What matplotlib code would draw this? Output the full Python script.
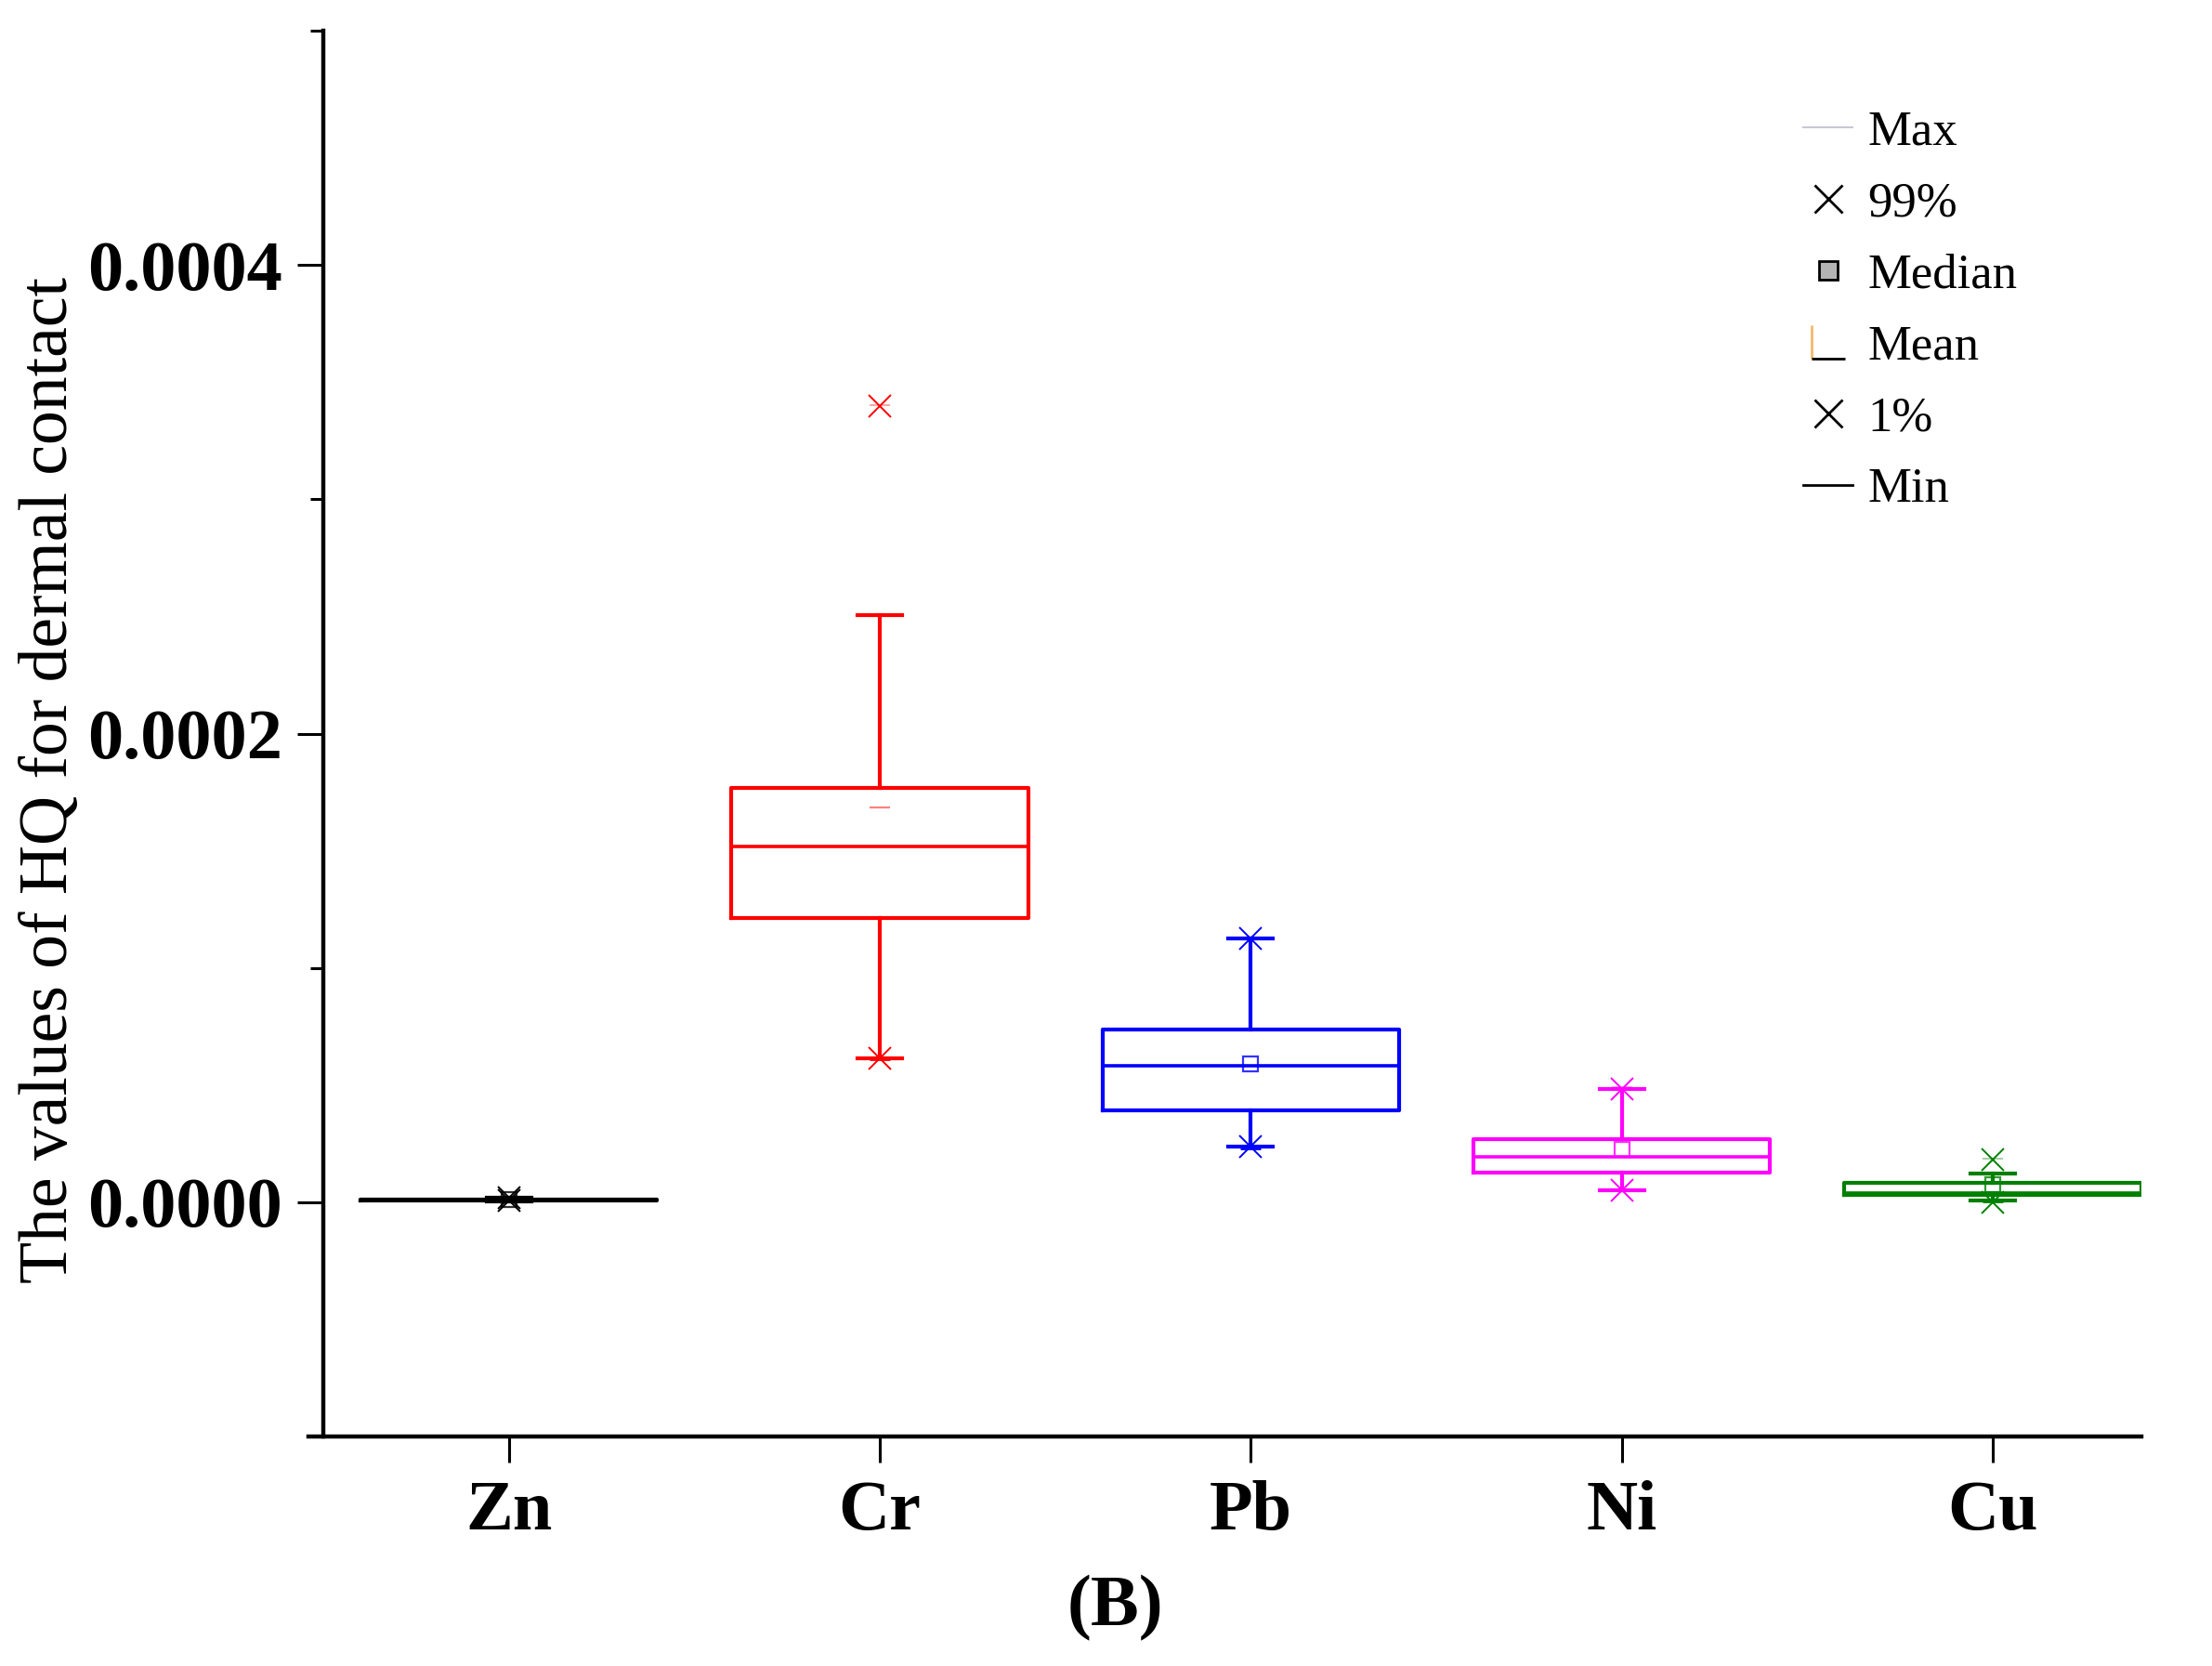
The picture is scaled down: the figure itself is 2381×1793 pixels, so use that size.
import matplotlib
matplotlib.use('Agg')
import matplotlib.pyplot as plt
from matplotlib.lines import Line2D
from matplotlib.legend_handler import HandlerTuple
from matplotlib.path import Path
from matplotlib.ticker import MultipleLocator, FormatStrFormatter

# Valores (HQ por contacto dérmico)
metals = ['Zn', 'Cr', 'Pb', 'Ni', 'Cu']
colors = ['black', 'red', 'blue', 'magenta', 'green']
q1 = [0.8e-6, 1.213e-4, 3.94e-5, 1.26e-5, 3.0e-6]
med = [1.0e-6, 1.520e-4, 5.83e-5, 1.92e-5, 4.0e-6]
q3 = [1.3e-6, 1.768e-4, 7.36e-5, 2.70e-5, 8.4e-6]
whislo = [0.5e-6, 6.15e-5, 2.37e-5, 5.3e-6, 0.9e-6]
whishi = [2.0e-6, 2.504e-4, 1.126e-4, 4.83e-5, 1.21e-5]
mean = [1.1e-6, 1.683e-4, 5.90e-5, 2.26e-5, 7.5e-6]
p1 = [0.6e-6, 6.15e-5, 2.37e-5, 5.3e-6, 0.1e-6]
p99 = [1.8e-6, 3.397e-4, 1.126e-4, 4.83e-5, 1.81e-5]
vmin = [0.5e-6, 6.1e-5, 2.3e-5, 5.0e-6, 0.3e-6]
vmax = [2.0e-6, 3.40e-4, 1.13e-4, 4.9e-5, 1.85e-5]
mean_marker = ['s', '_', 's', 's', 's']

plt.rcParams['font.family'] = ['Liberation Serif', 'DejaVu Serif']

fig = plt.figure(figsize=(23.81, 17.93), dpi=100)
ax = fig.add_axes([0.1462, 0.1377, 0.8218, 0.8439])

for i, m in enumerate(metals):
    pos = i + 1
    c = colors[i]
    st = [{'med': med[i], 'q1': q1[i], 'q3': q3[i], 'whislo': whislo[i],
           'whishi': whishi[i], 'mean': mean[i], 'fliers': [], 'label': m}]
    ax.bxp(st, positions=[pos], widths=0.8, capwidths=0.12, showmeans=True,
           boxprops=dict(color=c, linewidth=3.0),
           medianprops=dict(color=c, linewidth=2.6),
           whiskerprops=dict(color=c, linewidth=3.0),
           capprops=dict(color=c, linewidth=3.0),
           meanprops=dict(marker=mean_marker[i], markerfacecolor='none',
                          markeredgecolor=c, markersize=12 if mean_marker[i] == 's' else 16,
                          markeredgewidth=1.6, alpha=0.8 if mean_marker[i] == 's' else 0.5))
    # percentis 1% e 99%
    ax.plot([pos, pos], [p1[i], p99[i]], ls='none', marker='x', color=c,
            markersize=17, markeredgewidth=1.4)
    # máximo e mínimo
    ax.plot([pos], [vmax[i]], ls='none', marker='_', color=c, markersize=16,
            markeredgewidth=1.5, alpha=0.35)
    ax.plot([pos], [vmin[i]], ls='none', marker='_', color=c, markersize=16,
            markeredgewidth=2)

ax.set_xlim(0.5, 5.4)
ax.set_ylim(-0.0001, 0.0005)
ax.set_xticks(range(1, len(metals) + 1))
ax.set_xticklabels(metals, fontsize=55, fontweight='bold')
ax.yaxis.set_major_locator(MultipleLocator(0.0002))
ax.yaxis.set_minor_locator(MultipleLocator(0.0001))
ax.yaxis.set_major_formatter(FormatStrFormatter('%.4f'))
for lab in ax.get_yticklabels():
    lab.set_fontweight('bold')
    lab.set_fontsize(55)

ax.tick_params(axis='y', which='major', direction='out', length=20, width=2.2, pad=12)
ax.tick_params(axis='y', which='minor', direction='out', length=10, width=2.2)
ax.tick_params(axis='x', which='major', direction='out', length=20, width=2.2, pad=14)

for s in ['top', 'right']:
    ax.spines[s].set_visible(False)
for s in ['left', 'bottom']:
    ax.spines[s].set_linewidth(3.2)
ax.spines['bottom'].set_bounds(0.46, 5.4)

ax.set_ylabel('The values of HQ for dermal contact', fontsize=53)
ax.yaxis.set_label_coords(-0.133, 0.467)

# Legenda
l_path = Path([(-1, 1), (-1, -1)])
b_path = Path([(-1, -1), (1, -1)])
h_max = Line2D([], [], color='#c8c8d4', lw=1.5)
h_99 = Line2D([], [], ls='none', marker='x', color='black', markersize=22, markeredgewidth=2)
h_med = Line2D([], [], ls='none', marker='s', markerfacecolor='#b4b4b4',
               markeredgecolor='black', markersize=14, markeredgewidth=2)
h_mean = (Line2D([], [], ls='none', marker=l_path, color='#f4b870', markersize=26, markeredgewidth=2),
          Line2D([], [], ls='none', marker=b_path, color='black', markersize=26, markeredgewidth=2))
h_1 = Line2D([], [], ls='none', marker='x', color='black', markersize=22, markeredgewidth=2)
h_min = Line2D([], [], color='black', lw=2)
ax.legend([h_max, h_99, h_med, h_mean, h_1, h_min],
          ['Max', '99%', 'Median', 'Mean', '1%', 'Min'],
          handler_map={tuple: HandlerTuple(ndivide=1)},
          loc='upper left', bbox_to_anchor=(0.79, 0.975), frameon=False,
          fontsize=38, handlelength=1.0, handletextpad=0.3, labelspacing=0.55)

fig.text(0.504, 0.0346, '(B)', fontsize=56, fontweight='bold', ha='center', va='center')

fig.savefig('out.png', dpi=100)
